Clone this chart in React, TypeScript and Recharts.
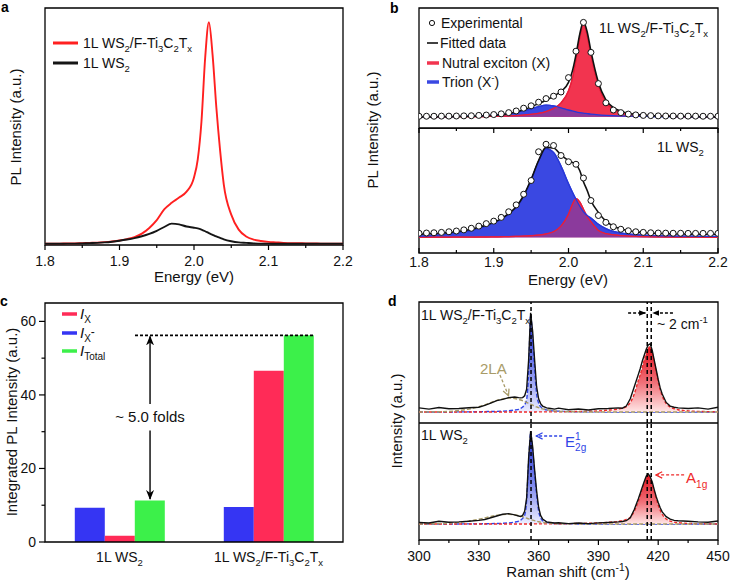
import React from 'react';
import { ComposedChart, Line, Area, Bar, XAxis, YAxis, ReferenceLine, ReferenceArea } from 'recharts';

const FONT = "'Liberation Sans', Arial, Helvetica, sans-serif";

// ---------- Panel a : PL spectra ----------
const energyA = [1.80,1.81,1.82,1.83,1.84,1.85,1.86,1.87,1.88,1.89,
  1.90,1.91,1.92,1.93,1.94,1.95,1.96,1.97,1.98,1.99,
  2.00,2.005,2.01,2.015,2.02,2.025,2.03,2.035,2.04,2.05,
  2.06,2.07,2.08,2.09,2.10,2.11,2.12,2.13,2.14,2.15,
  2.16,2.17,2.18,2.19,2.20];
const plHetero = [0.6,0.6,0.6,0.7,0.7,0.8,0.9,1.0,1.2,1.5,
  1.9,2.5,3.3,4.8,7.2,10.5,15.0,17.8,20.0,22.5,
  28.5,36,52,79,94,80,58,40,25.5,12.8,
  6.5,3.6,2.3,1.7,1.3,1.1,0.9,0.8,0.8,0.7,
  0.7,0.6,0.6,0.6,0.6];
const plMono = [0.5,0.5,0.5,0.6,0.6,0.7,0.8,0.9,1.1,1.4,
  1.8,2.3,2.9,3.7,4.7,6.0,7.6,9.0,8.7,7.8,
  7.3,7.0,6.5,5.8,5.0,4.3,3.6,3.0,2.4,1.6,
  1.1,0.9,0.7,0.6,0.6,0.5,0.5,0.5,0.5,0.5,
  0.5,0.5,0.5,0.5,0.5];

// ---------- Panel b : fitted PL ----------
const energyB = [1.80,1.81,1.82,1.83,1.84,1.85,1.86,1.87,1.88,1.89,
  1.90,1.91,1.92,1.93,1.94,1.95,1.96,1.97,1.98,1.99,
  2.00,2.005,2.01,2.015,2.02,2.025,2.03,2.04,2.05,2.06,
  2.07,2.08,2.09,2.10,2.11,2.12,2.13,2.14,2.15,2.16,
  2.17,2.18,2.19,2.20];
const heteroFit = [9.3,9.3,9.3,9.4,9.4,9.5,9.6,9.8,10.0,10.2,
  10.6,11.2,12.0,13.3,15.2,17.6,20.3,23.2,26.5,30.5,
  38,47,61,78,88.5,80,64,38,23.5,17,
  14,12.3,11.3,10.7,10.3,10.0,9.8,9.7,9.6,9.5,
  9.4,9.4,9.3,9.3];
const heteroX = [9.3,9.3,9.3,9.3,9.4,9.4,9.4,9.5,9.5,9.6,
  9.7,9.8,10.0,10.3,10.7,11.3,12.2,13.7,16.2,21.0,
  31.0,41,57,75,86.5,77,61,35.5,21.5,15.8,
  13.2,11.8,11.0,10.5,10.2,9.9,9.8,9.6,9.5,9.5,
  9.4,9.4,9.3,9.3];
const heteroTrion = [9.3,9.3,9.4,9.4,9.5,9.6,9.7,9.9,10.1,10.4,
  10.8,11.3,12.0,13.0,14.4,16.0,17.8,19.0,18.4,16.8,
  15.0,14.2,13.5,12.9,12.4,12.0,11.6,11.0,10.6,10.3,
  10.1,9.9,9.8,9.7,9.6,9.5,9.5,9.4,9.4,9.4,
  9.3,9.3,9.3,9.3];
const heteroExp = [9.8,9.8,9.8,9.9,9.9,10.0,10.1,10.2,10.5,10.8,
  11.2,11.8,12.8,14.2,16.5,18.5,21.5,24.5,26.5,30.0,
  42.0,null,64,null,88,null,63,37,21,15,
  12.8,11.6,10.9,10.5,10.3,10.1,10.0,10.0,9.9,9.9,
  9.9,9.8,9.8,9.8];
const monoFit = [15.0,15.2,15.5,15.8,16.3,17.0,17.8,19.0,20.5,22.3,
  24.5,27.5,31.5,37.0,46.0,59.0,74.0,84.5,84.0,78.5,
  74.0,72.5,71.0,66.0,57.0,50.0,42.0,32.5,25.5,21.5,
  19.2,17.8,16.9,16.3,15.9,15.6,15.4,15.3,15.2,15.1,
  15.1,15.0,15.0,15.0];
const monoTrion = [13.5,13.8,14.2,14.7,15.3,16.0,17.0,18.2,19.8,21.7,
  24.0,27.0,31.0,36.5,45.5,58.5,73.5,83.5,80.5,69.5,
  55.5,49.0,43.0,37.5,33.0,30.0,28.0,23.0,19.5,17.3,
  16.0,15.2,14.7,14.3,14.0,13.8,13.7,13.6,13.5,13.5,
  13.4,13.4,13.3,13.3];
const monoX = [12.6,12.6,12.6,12.6,12.6,12.7,12.7,12.7,12.8,12.8,
  12.9,13.0,13.1,13.3,13.5,13.8,14.3,15.2,17.0,21.5,
  31.0,38.5,43.5,41.0,35.0,29.0,25.0,18.0,15.5,14.5,
  13.9,13.5,13.3,13.1,13.0,12.9,12.8,12.8,12.7,12.7,
  12.7,12.6,12.6,12.6];
const monoExp = [15.8,16.0,16.2,16.5,17.0,17.6,18.5,19.8,21.5,23.5,
  25.5,28.5,33.0,38.5,47.0,58.0,81.0,87.0,86.0,78.0,
  73.0,null,71.0,null,60.0,null,42.0,30.0,24.5,21.0,
  19.0,17.8,17.0,16.5,16.2,16.0,15.9,15.8,15.8,15.7,
  15.7,15.7,15.7,15.7];

// ---------- Panel c : integrated intensity ----------
const samples = ['1L WS_2', '1L WS_2/F-Ti_3C_2T_x'];
const intTrion = [9.3, 9.5];
const intExciton = [1.7, 46.6];
const intTotal = [11.3, 56.2];

// ---------- Panel d : Raman ----------
const ramanShift = [300,305,310,315,320,325,330,333,336,339,
  342,345,348,350,351,352,353,354,355,356,
  357,358,359,360,361,362,364,366,368,370,
  375,380,385,390,395,400,402,404,406,408,
  410,411,412,413,414,415,416,417,418,419,
  420,421,422,424,426,428,430,435,440,445,
  450];
const heteroRaman = [12.5,11.5,12.8,11.8,12.0,12.6,13.0,14.5,16.5,18.5,
  19.5,21.0,21.5,21.0,20.8,21.0,22.5,28,52,91,
  76,52,30,20,16,14.0,12.5,12.0,11.5,12.3,
  11.0,11.6,10.8,11.8,12.0,12.5,12.2,14,20,30,
  40,45,51,56,61,64.5,65.5,60,52,44,
  36,29,24,17,14,13,12.5,12.0,12.5,11.5,
  13.0];
const heteroE = [9.1,9.1,9.1,9.1,9.2,9.2,9.3,9.4,9.5,9.6,
  9.8,10.1,10.7,11.3,12.0,13.2,15.0,19.5,42,89,
  70,45,24,16.5,13.5,12.0,10.8,10.2,9.9,9.7,
  9.4,9.3,9.2,9.2,9.1,9.1,9.1,9.1,9.1,9.1,
  9.1,9.1,9.1,9.1,9.1,9.1,9.1,9.1,9.1,9.1,
  9.1,9.1,9.1,9.1,9.1,9.1,9.1,9.1,9.1,9.1,
  9.1];
const heteroA = [9.1,9.1,9.1,9.1,9.1,9.1,9.1,9.1,9.1,9.1,
  9.1,9.1,9.1,9.1,9.1,9.1,9.1,9.1,9.1,9.1,
  9.1,9.1,9.2,9.2,9.2,9.2,9.2,9.2,9.3,9.3,
  9.4,9.5,9.7,10.0,10.6,11.6,12.3,13.5,17,24,
  35,40,46,52,57.5,61.5,63,58,50,42,
  34,27.5,22.5,16,13.2,11.8,11.0,10.0,9.6,9.4,
  9.3];
const hetero2LA = [9.1,9.2,9.3,9.6,10.3,11.5,13.4,15.0,16.9,18.7,
  20.0,20.6,20.2,19.5,19.0,18.4,17.7,17.0,16.2,15.5,
  14.7,14.0,13.3,12.7,12.2,11.7,11.0,10.4,10.0,9.7,
  9.3,9.2,9.1,9.1,9.1,9.1,9.1,9.1,9.1,9.1,
  9.1,9.1,9.1,9.1,9.1,9.1,9.1,9.1,9.1,9.1,
  9.1,9.1,9.1,9.1,9.1,9.1,9.1,9.1,9.1,9.1,
  9.1];
const monoRaman = [15.0,14.5,16.0,15.2,15.5,16.0,16.8,17.5,19.0,20.5,
  22.0,22.5,21.5,20.5,20.0,21.0,24.5,36,70,93,
  80,60,42,28,21,18.0,15.5,15.0,14.5,14.8,
  14.0,14.5,14.0,14.6,15.0,15.5,15.8,16.5,19,26,
  35,40,45,50,54.5,56.5,54,49.5,43,37,
  32,27.5,24,20,17.8,16.8,16.5,16.0,15.5,15.2,
  16.3];
const monoE = [13.7,13.7,13.7,13.7,13.7,13.8,13.8,13.9,14.0,14.1,
  14.3,14.6,15.3,16.2,17.0,18.5,21,34,67,91,
  77,57,39,25,19,16.5,15.0,14.4,14.1,13.9,
  13.8,13.7,13.7,13.7,13.7,13.7,13.7,13.7,13.7,13.7,
  13.7,13.7,13.7,13.7,13.7,13.7,13.7,13.7,13.7,13.7,
  13.7,13.7,13.7,13.7,13.7,13.7,13.7,13.7,13.7,13.7,
  13.7];
const monoA = [13.7,13.7,13.7,13.7,13.7,13.7,13.7,13.7,13.7,13.7,
  13.7,13.7,13.7,13.7,13.7,13.7,13.7,13.7,13.7,13.7,
  13.7,13.8,13.8,13.8,13.8,13.8,13.8,13.8,13.9,13.9,
  14.0,14.1,14.3,14.6,15.1,15.9,16.5,17.6,19.5,24.5,
  33,38,43.5,48.5,53,55.5,53,48,41.5,35.5,
  30,25.5,22,18,16.2,15.3,14.8,14.2,13.9,13.8,
  13.7];
const mono2LA = [13.7,13.8,14.0,14.4,15.1,16.2,17.7,18.9,20.1,21.1,
  21.7,21.9,21.4,20.8,20.4,19.9,19.3,18.7,18.1,17.5,
  17.0,16.5,16.0,15.6,15.3,15.0,14.6,14.3,14.1,13.9,
  13.8,13.7,13.7,13.7,13.7,13.7,13.7,13.7,13.7,13.7,
  13.7,13.7,13.7,13.7,13.7,13.7,13.7,13.7,13.7,13.7,
  13.7,13.7,13.7,13.7,13.7,13.7,13.7,13.7,13.7,13.7,
  13.7];

// ---------- ticks ----------
const energyTicks = [1.8,1.85,1.9,1.95,2.0,2.05,2.1,2.15,2.2];
const energyMajor = [1.8,1.9,2.0,2.1,2.2];
const ramanTicks = [300,315,330,345,360,375,390,405,420,435,450];
const ramanMajor = [300,330,360,390,420,450];
const intTicks = [0,10,20,30,40,50,60];
const intMajor = [0,20,40,60];

// ---------- helpers ----------
type Tok = { t: string; s: number };
function parseChem(s: string): Tok[] {
  const out: Tok[] = [];
  let i = 0;
  let buf = '';
  const push = (t: string, sh: number) => { if (t) out.push({ t, s: sh }); };
  while (i < s.length) {
    const c = s[i];
    if (c === '_' || c === '^') {
      push(buf, 0); buf = '';
      const sh = c === '_' ? 1 : -1;
      if (s[i + 1] === '{') {
        const j = s.indexOf('}', i + 2);
        push(s.slice(i + 2, j), sh);
        i = j + 1;
      } else {
        push(s[i + 1], sh);
        i += 2;
      }
    } else { buf += c; i++; }
  }
  push(buf, 0);
  return out;
}
function chem(s: string, size: number) {
  const toks = parseChem(s);
  let cur = 0;
  return toks.map((tk, k) => {
    const target = tk.s === 1 ? size * 0.3 : tk.s === -1 ? -size * 0.4 : 0;
    const dy = target - cur;
    cur = target;
    return <tspan key={k} dy={dy} fontSize={tk.s ? size * 0.68 : size}>{tk.t}</tspan>;
  });
}

function T({ x, y, s, size = 14, anchor = 'start', fill = '#111', bold = false }: any) {
  return (
    <text x={x} y={y} fontSize={size} fontFamily={FONT} fill={fill} textAnchor={anchor} fontWeight={bold ? 'bold' : 'normal'}>
      {chem(s, size)}
    </text>
  );
}
function VT({ cx, cy, s, size = 15 }: any) {
  return (
    <text transform={`translate(${cx},${cy}) rotate(-90)`} x={0} y={5} fontSize={size} fontFamily={FONT} fill="#111" textAnchor="middle">{s}</text>
  );
}

function numTick(major: number[], dir: number, labelDy: number | null, fmt: (v: number) => string) {
  return (props: any) => {
    const { x, y, payload } = props;
    const v = payload.value;
    const isMajor = major.some((m) => Math.abs(m - v) < 1e-9);
    return (
      <g>
        <line x1={x} x2={x} y1={y} y2={y + dir * (isMajor ? 5 : 3)} stroke="#000" strokeWidth={1.2} />
        {isMajor && labelDy !== null ? (
          <text x={x} y={y + labelDy} textAnchor="middle" fontSize={14} fontFamily={FONT} fill="#111">{fmt(v)}</text>
        ) : null}
      </g>
    );
  };
}
const fmtE = (v: number) => v.toFixed(1);
const fmtR = (v: number) => String(v);

const intTick = (props: any) => {
  const { x, y, payload } = props;
  const isMajor = intMajor.includes(payload.value);
  return (
    <g>
      <line x1={x} x2={x - (isMajor ? 6 : 3.5)} y1={y} y2={y} stroke="#000" strokeWidth={1.2} />
      {isMajor ? <text x={x - 9} y={y + 5} textAnchor="end" fontSize={14} fontFamily={FONT} fill="#111">{payload.value}</text> : null}
    </g>
  );
};
const sampleTick = (props: any) => (
  <text x={props.x} y={props.y + 20} textAnchor="middle" fontSize={14} fontFamily={FONT} fill="#111">{chem(props.payload.value, 14)}</text>
);

const arrowShape = (color: string, marker: string, dash: string | undefined, w = 1.4) => (p: any) => (
  <line x1={p.x1} y1={p.y1} x2={p.x2} y2={p.y2} stroke={color} strokeWidth={w} strokeDasharray={dash} markerEnd={`url(#${marker})`} />
);

const frame = { fill: 'none', stroke: '#000', strokeWidth: 1.3, ifOverflow: 'visible' as const };

const C = {
  aRed: '#ff2020',
  bRed: '#f2344f', bRedS: '#e81e3a', bBlue: '#3a48e2', bBlueS: '#2838d8', bMix: '#8b3a9c',
  cBlue: '#3535f3', cRed: '#ff2b57', cGreen: '#3cf04a',
  dBlue: '#2f45e6', dRed: '#ee2a2a', olive: '#a89b68',
};

export default function App() {
  const dataA = energyA.map((e, i) => ({ e, hetero: plHetero[i], mono: plMono[i] }));
  const dataBU = energyB.map((e, i) => ({ e, fit: heteroFit[i], x: heteroX[i], t: heteroTrion[i], o: Math.min(heteroX[i], heteroTrion[i]), exp: heteroExp[i] }));
  const dataBL = energyB.map((e, i) => ({ e, fit: monoFit[i], x: monoX[i], t: monoTrion[i], o: Math.min(monoX[i], monoTrion[i]), exp: monoExp[i] }));
  const dataC = samples.map((name, i) => ({ name, trion: intTrion[i], exciton: intExciton[i], total: intTotal[i] }));
  // sample slots on a continuous 0..2 scale (slot i centred at i + 0.5) for the annotation layer
  const slotsC = samples.map((name, i) => ({ pos: i + 0.5, total: intTotal[i] }));
  const dataDU = ramanShift.map((r, i) => ({ r, raw: heteroRaman[i], E: heteroE[i], A: heteroA[i], la: hetero2LA[i] }));
  const dataDL = ramanShift.map((r, i) => ({ r, raw: monoRaman[i], E: monoE[i], A: monoA[i], la: mono2LA[i] }));

  const bSeries = (base: number) => [
    <Area key="t" dataKey="t" type="monotone" stroke={C.bBlueS} strokeWidth={1.2} fill={C.bBlue} fillOpacity={1} baseValue={base} isAnimationActive={false} activeDot={false} />,
    <Area key="x" dataKey="x" type="monotone" stroke={C.bRedS} strokeWidth={1.2} fill={C.bRed} fillOpacity={1} baseValue={base} isAnimationActive={false} activeDot={false} />,
    <Area key="o" dataKey="o" type="monotone" stroke="none" fill={C.bMix} fillOpacity={1} baseValue={base} isAnimationActive={false} activeDot={false} />,
    <Line key="xl" dataKey="x" type="monotone" stroke={C.bRedS} strokeWidth={1.3} dot={false} isAnimationActive={false} activeDot={false} />,
    <Line key="tl" dataKey="t" type="monotone" stroke={C.bBlueS} strokeWidth={1.3} dot={false} isAnimationActive={false} activeDot={false} />,
    <Line key="f" dataKey="fit" type="monotone" stroke="#111" strokeWidth={1.6} dot={false} isAnimationActive={false} activeDot={false} />,
    <Line key="e" dataKey="exp" stroke="none" dot={{ r: 3, fill: '#fff', stroke: '#111', strokeWidth: 1 }} isAnimationActive={false} activeDot={false} />,
  ];

  const dSeries = (base: number) => [
    <Line key="la" dataKey="la" type="monotone" stroke={C.olive} strokeWidth={1.4} strokeDasharray="4 2" dot={false} isAnimationActive={false} activeDot={false} />,
    <Area key="E" dataKey="E" type="monotone" stroke={C.dBlue} strokeWidth={1.4} strokeDasharray="4 2" fill="url(#gradE)" fillOpacity={1} baseValue={base} isAnimationActive={false} activeDot={false} />,
    <Area key="A" dataKey="A" type="monotone" stroke={C.dRed} strokeWidth={1.4} strokeDasharray="3 2" fill="url(#gradA)" fillOpacity={1} baseValue={base} isAnimationActive={false} activeDot={false} />,
    <Line key="raw" dataKey="raw" type="linear" stroke="#111" strokeWidth={1.4} dot={false} isAnimationActive={false} activeDot={false} />,
    <ReferenceLine key="v1" x={356.2} stroke="#000" strokeWidth={1.5} strokeDasharray="4 3" />,
    <ReferenceLine key="v2" x={414.5} stroke="#000" strokeWidth={1.5} strokeDasharray="4 3" />,
    <ReferenceLine key="v3" x={416.5} stroke="#000" strokeWidth={1.5} strokeDasharray="4 3" />,
  ];

  return (
    <div style={{ position: 'absolute', left: 0, top: 0, width: 731, height: 581, background: '#fff', overflow: 'hidden', fontFamily: FONT }}>
      <svg width={0} height={0} style={{ position: 'absolute', left: 0, top: 0 }}>
        <defs>
          <linearGradient id="gradE" x1="0" y1="0" x2="0" y2="1">
            <stop offset="0" stopColor="#1f30d8" />
            <stop offset="0.55" stopColor="#7c86ec" />
            <stop offset="1" stopColor="#eceeff" />
          </linearGradient>
          <linearGradient id="gradA" x1="0" y1="0" x2="0" y2="1">
            <stop offset="0" stopColor="#e0101c" />
            <stop offset="0.55" stopColor="#f07078" />
            <stop offset="1" stopColor="#ffe6e6" />
          </linearGradient>
          <marker id="mkBlack" viewBox="0 0 10 10" refX="9" refY="5" markerWidth="7" markerHeight="7" markerUnits="userSpaceOnUse" orient="auto">
            <path d="M0,1 L10,5 L0,9 z" fill="#000" />
          </marker>
          <marker id="mkBig" viewBox="0 0 10 10" refX="9" refY="5" markerWidth="10" markerHeight="10" markerUnits="userSpaceOnUse" orient="auto">
            <path d="M0,1 L10,5 L0,9 L3,5 z" fill="#000" />
          </marker>
          <marker id="mkBlue" viewBox="0 0 10 10" refX="9" refY="5" markerWidth="8" markerHeight="8" markerUnits="userSpaceOnUse" orient="auto">
            <path d="M1,1 L9,5 L1,9" fill="none" stroke={C.dBlue} strokeWidth="1.6" />
          </marker>
          <marker id="mkRed" viewBox="0 0 10 10" refX="9" refY="5" markerWidth="8" markerHeight="8" markerUnits="userSpaceOnUse" orient="auto">
            <path d="M1,1 L9,5 L1,9" fill="none" stroke={C.dRed} strokeWidth="1.6" />
          </marker>
          <marker id="mkOlive" viewBox="0 0 10 10" refX="9" refY="5" markerWidth="8" markerHeight="8" markerUnits="userSpaceOnUse" orient="auto">
            <path d="M1,1 L9,5 L1,9" fill="none" stroke={C.olive} strokeWidth="1.6" />
          </marker>
        </defs>
      </svg>

      {/* Panel a */}
      <div style={{ position: 'absolute', left: 0, top: 0 }}>
        <ComposedChart width={360} height={290} data={dataA} margin={{ top: 8, right: 17, bottom: 0, left: 45 }}>
          <XAxis dataKey="e" type="number" domain={[1.8, 2.2]} ticks={energyTicks} interval={0} height={45} tickSize={0} tickMargin={0} axisLine={false} tickLine={false} tick={numTick(energyMajor, 1, 21, fmtE)} allowDataOverflow />
          <YAxis hide domain={[0, 100]} allowDataOverflow />
          <ReferenceArea x1={1.8} x2={2.2} y1={0} y2={100} {...frame} />
          <Line dataKey="hetero" type="monotone" stroke={C.aRed} strokeWidth={1.9} dot={false} isAnimationActive={false} activeDot={false} />
          <Line dataKey="mono" type="monotone" stroke="#151515" strokeWidth={1.9} dot={false} isAnimationActive={false} activeDot={false} />
        </ComposedChart>
      </div>

      {/* Panel b lower */}
      <div style={{ position: 'absolute', left: 360, top: 128 }}>
        <ComposedChart width={371} height={165} data={dataBL} margin={{ top: 0, right: 13, bottom: 0, left: 59 }}>
          <XAxis dataKey="e" type="number" domain={[1.8, 2.2]} ticks={energyTicks} interval={0} height={40} tickSize={0} tickMargin={0} axisLine={false} tickLine={false} tick={numTick(energyMajor, -1, 14, fmtE)} allowDataOverflow />
          <YAxis hide domain={[0, 100]} allowDataOverflow />
          <ReferenceArea x1={1.8} x2={2.2} y1={0} y2={100} {...frame} />
          {bSeries(12.6)}
        </ComposedChart>
      </div>
      {/* Panel b upper */}
      <div style={{ position: 'absolute', left: 360, top: 0 }}>
        <ComposedChart width={371} height={134} data={dataBU} margin={{ top: 8, right: 13, bottom: 0, left: 59 }}>
          <XAxis dataKey="e" type="number" domain={[1.8, 2.2]} ticks={energyTicks} interval={0} height={6} tickSize={0} tickMargin={0} axisLine={false} tickLine={false} tick={numTick(energyMajor, 1, null, fmtE)} allowDataOverflow />
          <YAxis hide domain={[0, 100]} allowDataOverflow />
          <ReferenceArea x1={1.8} x2={2.2} y1={0} y2={100} {...frame} />
          {bSeries(9.3)}
        </ComposedChart>
      </div>

      {/* Panel c bars */}
      <div style={{ position: 'absolute', left: 0, top: 290 }}>
        <ComposedChart width={360} height={291} data={dataC} margin={{ top: 13, right: 17, bottom: 0, left: 0 }} barCategoryGap="20%" barGap={0}>
          <XAxis dataKey="name" type="category" height={39} tickSize={0} tickMargin={0} axisLine={false} tickLine={false} tick={sampleTick} interval={0} />
          <YAxis domain={[0, 65]} ticks={intTicks} interval={0} width={45} tickSize={0} tickMargin={0} axisLine={false} tickLine={false} tick={intTick} allowDataOverflow />
          <Bar dataKey="trion" fill={C.cBlue} isAnimationActive={false} />
          <Bar dataKey="exciton" fill={C.cRed} isAnimationActive={false} />
          <Bar dataKey="total" fill={C.cGreen} isAnimationActive={false} />
        </ComposedChart>
      </div>
      {/* Panel c frame + annotation layer (continuous x scale over the same plot area) */}
      <div style={{ position: 'absolute', left: 0, top: 290 }}>
        <ComposedChart width={360} height={291} data={slotsC} margin={{ top: 13, right: 17, bottom: 39, left: 45 }}>
          <XAxis dataKey="pos" type="number" domain={[0, 2]} hide allowDataOverflow />
          <YAxis hide domain={[0, 65]} allowDataOverflow />
          <ReferenceArea x1={0} x2={2} y1={0} y2={65} {...frame} />
          <ReferenceLine segment={[{ x: 0.604, y: intTotal[1] }, { x: 1.799, y: intTotal[1] }]} stroke="#000" strokeWidth={1.6} strokeDasharray="3 2" />
          <ReferenceLine segment={[{ x: 0.705, y: 37.5 }, { x: 0.705, y: intTotal[1] - 0.3 }]} shape={arrowShape('#000', 'mkBig', undefined, 1.4)} />
          <ReferenceLine segment={[{ x: 0.705, y: 30.3 }, { x: 0.705, y: intTotal[0] + 0.4 }]} shape={arrowShape('#000', 'mkBig', undefined, 1.4)} />
        </ComposedChart>
      </div>

      {/* Panel d lower */}
      <div style={{ position: 'absolute', left: 360, top: 423 }}>
        <ComposedChart width={371} height={158} data={dataDL} margin={{ top: 0, right: 13, bottom: 0, left: 59 }}>
          <XAxis dataKey="r" type="number" domain={[300, 450]} ticks={ramanTicks} interval={0} height={41} tickSize={0} tickMargin={0} axisLine={false} tickLine={false} tick={numTick(ramanMajor, 1, 21, fmtR)} allowDataOverflow />
          <YAxis hide domain={[0, 100]} allowDataOverflow />
          <ReferenceArea x1={300} x2={450} y1={0} y2={100} {...frame} />
          {dSeries(13.7)}
          <ReferenceLine segment={[{ x: 371.8, y: 88.9 }, { x: 358.8, y: 88.9 }]} shape={arrowShape(C.dBlue, 'mkBlue', '3 2', 1.3)} />
          <ReferenceLine segment={[{ x: 433, y: 55.6 }, { x: 418.8, y: 55.6 }]} shape={arrowShape(C.dRed, 'mkRed', '3 2', 1.3)} />
        </ComposedChart>
      </div>
      {/* Panel d upper */}
      <div style={{ position: 'absolute', left: 360, top: 290 }}>
        <ComposedChart width={371} height={133} data={dataDU} margin={{ top: 12, right: 13, bottom: 0, left: 59 }}>
          <XAxis dataKey="r" type="number" domain={[300, 450]} hide allowDataOverflow />
          <YAxis hide domain={[0, 100]} allowDataOverflow />
          <ReferenceArea x1={300} x2={450} y1={0} y2={100} {...frame} />
          {dSeries(9.1)}
          <ReferenceLine segment={[{ x: 404.9, y: 90.9 }, { x: 413.6, y: 90.9 }]} shape={arrowShape('#000', 'mkBlack', '3 2', 1.3)} />
          <ReferenceLine segment={[{ x: 427.4, y: 90.9 }, { x: 417.4, y: 90.9 }]} shape={arrowShape('#000', 'mkBlack', '3 2', 1.3)} />
          <ReferenceLine segment={[{ x: 340.6, y: 39.7 }, { x: 344.9, y: 22.5 }]} shape={arrowShape(C.olive, 'mkOlive', '3 2', 1.3)} />
        </ComposedChart>
      </div>

      {/* Text overlay */}
      <svg width={731} height={581} style={{ position: 'absolute', left: 0, top: 0, pointerEvents: 'none' }}>
        {/* panel letters */}
        <T x={1} y={12} s="a" size={14} bold fill="#000" />
        <T x={390} y={13} s="b" size={14} bold fill="#000" />
        <T x={0} y={306} s="c" size={14} bold fill="#000" />
        <T x={388} y={306} s="d" size={14} bold fill="#000" />

        {/* panel a */}
        <line x1={53} x2={78} y1={43} y2={43} stroke={C.aRed} strokeWidth={3} />
        <T x={83} y={48} s="1L WS_2/F-Ti_3C_2T_x" />
        <line x1={53} x2={78} y1={63} y2={63} stroke="#151515" strokeWidth={3} />
        <T x={83} y={68} s="1L WS_2" />
        <T x={194} y={282} s="Energy (eV)" size={15} anchor="middle" />
        <VT cx={16} cy={127} s="PL Intensity (a.u.)" />

        {/* panel b */}
        <circle cx={432} cy={23} r={2.6} fill="#fff" stroke="#111" strokeWidth={1} />
        <T x={441} y={28} s="Experimental" />
        <line x1={427} x2={438} y1={43} y2={43} stroke="#111" strokeWidth={1.6} />
        <T x={440} y={48} s="Fitted data" />
        <line x1={427} x2={439} y1={63} y2={63} stroke={C.bRed} strokeWidth={3.5} />
        <T x={442} y={68} s="Nutral exciton (X)" />
        <line x1={427} x2={439} y1={82} y2={82} stroke={C.bBlue} strokeWidth={3.5} />
        <T x={442} y={87} s="Trion (X^-)" />
        <T x={708} y={33} s="1L WS_2/F-Ti_3C_2T_x" anchor="end" />
        <T x={657} y={152} s="1L WS_2" />
        <T x={568} y={285} s="Energy (eV)" size={15} anchor="middle" />
        <VT cx={373} cy={130} s="PL Intensity (a.u.)" />

        {/* panel c */}
        <line x1={62} x2={77} y1={314} y2={314} stroke={C.cRed} strokeWidth={3.5} />
        <text x={80} y={319} fontSize={15} fontFamily={FONT} fill="#111"><tspan fontStyle="italic">I</tspan><tspan dy={4} fontSize={10}>X</tspan></text>
        <line x1={62} x2={77} y1={333} y2={333} stroke={C.cBlue} strokeWidth={3.5} />
        <text x={80} y={338} fontSize={15} fontFamily={FONT} fill="#111"><tspan fontStyle="italic">I</tspan><tspan dy={4} fontSize={10}>X</tspan><tspan dy={-6} fontSize={12}>-</tspan></text>
        <line x1={62} x2={77} y1={351} y2={351} stroke={C.cGreen} strokeWidth={3.5} />
        <text x={80} y={356} fontSize={15} fontFamily={FONT} fill="#111"><tspan fontStyle="italic">I</tspan><tspan dy={4} fontSize={10}>Total</tspan></text>
        <T x={150} y={422} s="~ 5.0 folds" size={15} anchor="middle" />
        <VT cx={12} cy={422} s="Integrated PL Intensity (a.u.)" />

        {/* panel d */}
        <T x={421} y={320} s="1L WS_2/F-Ti_3C_2T_x" />
        <T x={421} y={440} s="1L WS_2" />
        <T x={480} y={374} s="2LA" size={15} fill={C.olive} />
        <text x={565} y={447} fontSize={15} fontFamily={FONT} fill={C.dBlue}>
          <tspan>E</tspan><tspan dy={-7} fontSize={10}>1</tspan><tspan dx={-5.5} dy={11} fontSize={10}>2g</tspan>
        </text>
        <T x={686} y={483} s="A_{1g}" size={15} fill={C.dRed} />
        <T x={657} y={329} s="~ 2 cm^{-1}" size={14} />
        <T x={568} y={577} s="Raman shift (cm^{-1})" size={15} anchor="middle" />
        <VT cx={397} cy={421} s="Intensity (a.u.)" />
      </svg>
    </div>
  );
}
